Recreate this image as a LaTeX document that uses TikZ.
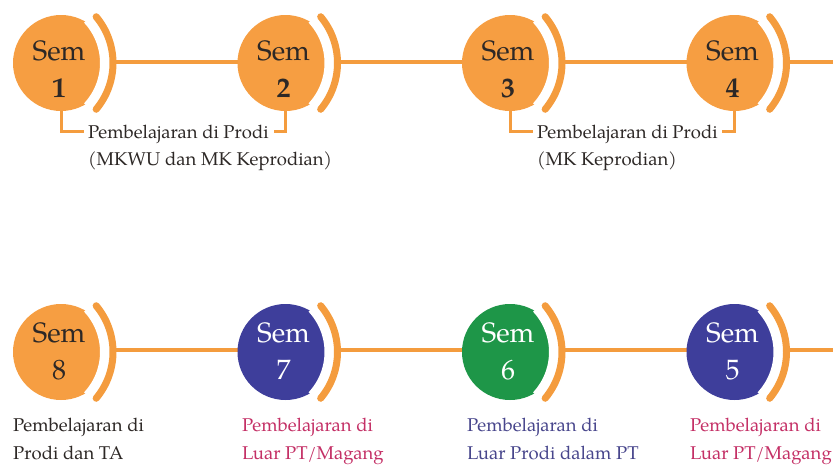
\documentclass[tikz,border=0pt]{standalone}
\usepackage{fontspec}
\setmainfont{texgyrepagella}[Extension=.otf, UprightFont=*-regular, BoldFont=*-bold, ItalicFont=*-italic, BoldItalicFont=*-bolditalic]
\definecolor{semorange}{RGB}{246,158,66}
\definecolor{lineorange}{RGB}{244,156,62}
\definecolor{semblue}{RGB}{62,62,155}
\definecolor{semgreen}{RGB}{30,150,72}
\definecolor{txtpink}{RGB}{196,48,102}
\definecolor{txtblue}{RGB}{72,70,140}
\definecolor{txtdark}{RGB}{45,40,38}
\begin{document}
\begin{tikzpicture}[x=1pt,y=-1pt,
  semc/.style={circle, minimum size=96pt, inner sep=0pt, draw=none},
  semt/.style={align=center, inner sep=0pt, font=\fontsize{28}{37}\selectfont},
  conn/.style={draw=lineorange, line width=4pt},
  bracket/.style={draw=lineorange, line width=3pt},
  desc/.style={align=left, inner sep=0pt, anchor=north west, font=\fontsize{18.5}{27}\selectfont},
  descb/.style={desc, font=\fontsize{18.5}{28}\selectfont}
]
\useasboundingbox (0,0) rectangle (833,464);

% circle positions
\coordinate (p1) at (61,63);
\coordinate (p2) at (285.5,63);
\coordinate (p3) at (510,63);
\coordinate (p4) at (734.5,63);
\coordinate (p8) at (61,352);
\coordinate (p7) at (285.5,352);
\coordinate (p6) at (510,352);
\coordinate (p5) at (734.5,352);
\coordinate (e1) at (833,62);
\coordinate (e2) at (833,350);

% connectors (behind circles)
\draw[conn] ([yshift=1pt]p1) -- ([yshift=1pt]p2) -- ([yshift=1pt]p3) -- ([yshift=1pt]p4) -- (e1);
\draw[conn] ([yshift=2pt]p8) -- ([yshift=2pt]p7) -- ([yshift=2pt]p6) -- ([yshift=2pt]p5) -- (e2);

% circles
\node[semc, fill=semorange] (c1) at (p1) {};
\node[semc, fill=semorange] (c2) at (p2) {};
\node[semc, fill=semorange] (c3) at (p3) {};
\node[semc, fill=semorange] (c4) at (p4) {};
\node[semc, fill=semorange] (c8) at (p8) {};
\node[semc, fill=semblue]   (c7) at (p7) {};
\node[semc, fill=semgreen]  (c6) at (p6) {};
\node[semc, fill=semblue]   (c5) at (p5) {};

% arcs on the right side of each circle
\foreach \n in {c1,c2,c3,c4,c5,c6,c7,c8}{
  \draw[white, line width=12pt] ([xshift=-20pt]\n.center) ++(-43:65pt) arc[start angle=-43, end angle=43, radius=65pt];
  \draw[lineorange, line width=7pt, line cap=round] ([xshift=-20pt]\n.center) ++(-40:72pt) arc[start angle=-40, end angle=40, radius=72pt];
}

% circle labels
\node[semt, text=txtdark] (s1) at (59,69.5) {Sem\\\textbf{1}};
\node[semt, text=txtdark] (s2) at (283.5,69.5) {Sem\\\textbf{2}};
\node[semt, text=txtdark] (s3) at (508,69.5) {Sem\\\textbf{3}};
\node[semt, text=txtdark] (s4) at (732.5,69.5) {Sem\\\textbf{4}};
\node[semt, text=txtdark] (s8) at (59,351) {Sem\\8};
\node[semt, text=white]   (s7) at (283.5,351) {Sem\\7};
\node[semt, text=white]   (s6) at (508,351) {Sem\\6};
\node[semt, text=white]   (s5) at (732.5,351) {Sem\\5};

% top descriptions with brackets
\node[desc, text=txtdark] (t1) at (88,125) {Pembelajaran di Prodi\\(MKWU dan MK Keprodian)};
\node[desc, text=txtdark] (t2) at (537,125) {Pembelajaran di Prodi\\(MK Keprodian)};
\coordinate (b1a) at (84,131);
\coordinate (b1b) at (274,131);
\coordinate (b2a) at (533,131);
\coordinate (b2b) at (722,131);
\draw[bracket] (c1.south) |- (b1a);
\draw[bracket] (c2.south) |- (b1b);
\draw[bracket] (c3.south) |- (b2a);
\draw[bracket] (c4.south) |- (b2b);

% bottom descriptions
\node[descb, text=txtdark] (t8) at (13,418) {Pembelajaran di\\Prodi dan TA};
\node[descb, text=txtpink] (t7) at (242,418) {Pembelajaran di\\Luar PT/Magang};
\node[descb, text=txtblue] (t6) at (467,418) {Pembelajaran di\\Luar Prodi dalam PT};
\node[descb, text=txtpink] (t5) at (690,418) {Pembelajaran di\\Luar PT/Magang};
\end{tikzpicture}
\end{document}
